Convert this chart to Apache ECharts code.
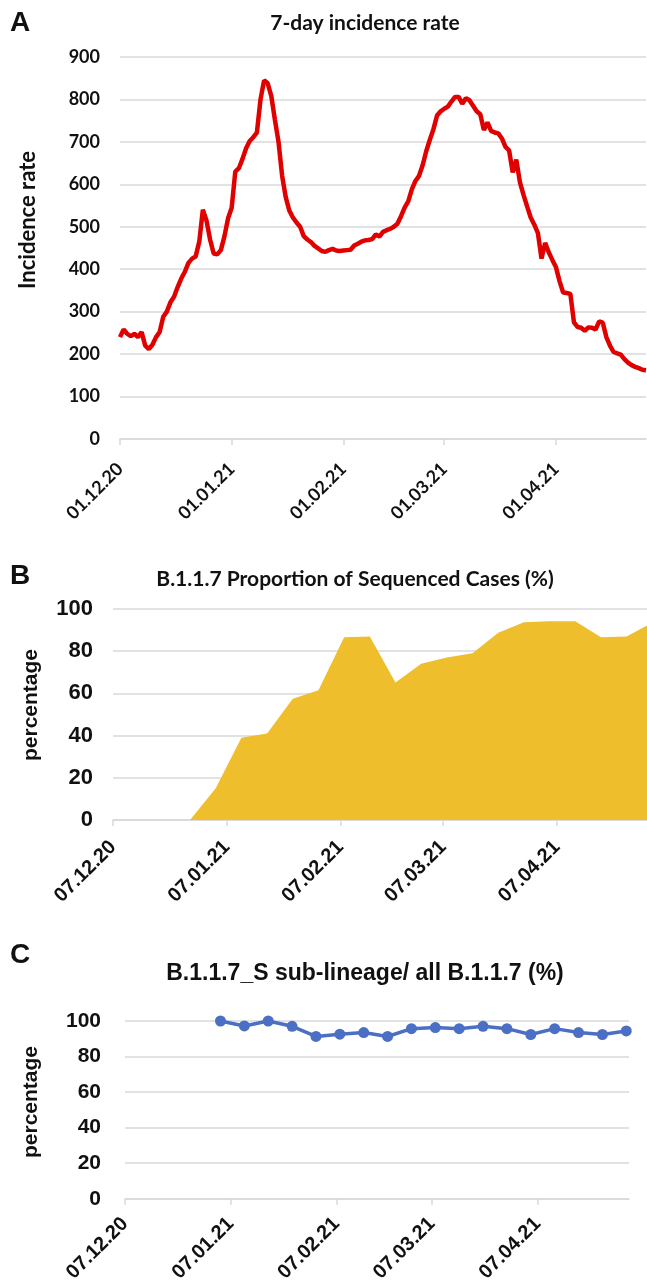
<!DOCTYPE html>
<html>
<head>
<meta charset="utf-8">
<title>7-day incidence / B.1.1.7</title>
<script src="https://cdn.jsdelivr.net/npm/echarts@6/dist/echarts.min.js"></script>
<style>
    html, body { margin: 0; padding: 0; background: #fff; }
    #main { width: 647px; height: 1285px; }
</style>
</head>
<body>
<div id="main"></div>
<script>
// A: daily 7-day incidence rate, first value is 01.12.2020
var incidenceStart = '2020-12-01';
var incidence = [
    240, 258, 248, 242, 248, 240, 252, 220, 212, 222,
    240, 252, 288, 300, 322, 335, 358, 378, 394, 415,
    425, 430, 465, 540, 515, 470, 437, 435, 445, 478,
    520, 545, 630, 638, 660, 685, 702, 711, 722, 800,
    845, 838, 808, 752, 700, 620, 570, 538, 522, 510,
    500, 478, 470, 464, 455, 449, 443, 441, 445, 448,
    444, 443, 444, 445, 446, 456, 460, 465, 468, 469,
    471, 482, 477, 488, 492, 495, 500, 507, 525, 545,
    560, 588, 608, 620, 645, 678, 705, 730, 762, 772,
    778, 783, 795, 806, 806, 790, 803, 798, 785, 772,
    765, 728, 746, 726, 722, 720, 708, 688, 680, 628,
    658, 605, 575, 548, 522, 505, 485, 425, 462, 440,
    422, 405, 372, 345, 344, 342, 275, 264, 262, 255,
    263, 262, 258, 277, 274, 240, 220, 205, 202, 199,
    188, 180, 174, 170, 167, 163, 162
];
var ticksA = ['2020-12-01', '2021-01-01', '2021-02-01', '2021-03-01', '2021-04-01'];

// B: weekly proportion of B.1.1.7 among sequenced cases (%)
var weeksB = ['2020-12-07', '2020-12-14', '2020-12-21', '2020-12-28', '2021-01-04', '2021-01-11',
    '2021-01-18', '2021-01-25', '2021-02-01', '2021-02-08', '2021-02-15', '2021-02-22',
    '2021-03-01', '2021-03-08', '2021-03-15', '2021-03-22', '2021-03-29', '2021-04-05',
    '2021-04-12', '2021-04-19', '2021-04-26', '2021-05-03'];
var proportionB = [0, 0, 0, 0, 15, 39, 41, 57.5, 61.5, 86.6, 87, 65.2,
    74, 77, 79, 88.8, 93.7, 94.2, 94.2, 86.6, 87, 93.5];

// C: weekly share of B.1.1.7_S sub-lineage among all B.1.1.7 (%)
var weeksC = ['2021-01-04', '2021-01-11', '2021-01-18', '2021-01-25', '2021-02-01', '2021-02-08',
    '2021-02-15', '2021-02-22', '2021-03-01', '2021-03-08', '2021-03-15', '2021-03-22',
    '2021-03-29', '2021-04-05', '2021-04-12', '2021-04-19', '2021-04-26', '2021-05-03'];
var subLineageC = [100, 97.2, 100, 97, 91.3, 92.6, 93.5, 91.3, 95.7, 96.3, 95.7, 97,
    95.7, 92.4, 95.7, 93.5, 92.4, 94.4];
var ticksBC = ['2020-12-07', '2021-01-07', '2021-02-07', '2021-03-07', '2021-04-07'];

// x positions are day numbers counted from 01.12.2020
function dayNum(s) {
    var p = s.split('-');
    var t = Date.UTC(+p[0], +p[1] - 1, +p[2]);
    return Math.round((t - Date.UTC(2020, 11, 1)) / 86400000);
}
function fmt(v) {
    var d = new Date(Date.UTC(2020, 11, 1) + Math.round(v) * 86400000);
    function two(n) { return (n < 10 ? '0' : '') + n; }
    return two(d.getUTCDate()) + '.' + two(d.getUTCMonth() + 1) + '.' + two(d.getUTCFullYear() % 100);
}
function pairs(dates, vals) {
    return vals.map(function (v, i) { return [dayNum(dates[i]), v]; });
}

var dataA = incidence.map(function (v, i) { return [dayNum(incidenceStart) + i, v]; });

var grey = '#d9d9d9';
var fontA = 'Lato, "Open Sans", sans-serif';
var fontC = '"Liberation Sans", Arial, sans-serif';

function xAxis(idx, min, max, ticks, font, size, margin) {
    return {
        type: 'value', gridIndex: idx, min: min, max: max,
        splitLine: { show: false },
        axisLine: { lineStyle: { color: grey, width: 1.5 } },
        axisTick: { show: true, length: 6, lineStyle: { color: grey, width: 1.5 },
            customValues: ticks.map(dayNum) },
        axisLabel: {
            customValues: ticks.map(dayNum), formatter: fmt, rotate: 45, margin: margin,
            color: '#111', fontWeight: 'bold', fontSize: size, fontFamily: font
        }
    };
}
function yAxis(idx, max, interval, font, size, margin) {
    return {
        type: 'value', gridIndex: idx, min: 0, max: max, interval: interval,
        axisLine: { show: false }, axisTick: { show: false },
        splitLine: { lineStyle: { color: grey, width: 1.5 } },
        axisLabel: { color: '#111', fontWeight: 'bold', fontSize: size, fontFamily: font, margin: margin }
    };
}
function txt(x, y, s, font, size, rot) {
    return {
        type: 'text', x: x, y: y, rotation: rot || 0,
        style: { text: s, font: 'bold ' + size + 'px ' + font, fill: '#111',
            textAlign: 'center', textVerticalAlign: 'middle' }
    };
}

var chart = echarts.init(document.getElementById('main'));
chart.setOption({
    animation: false,
    grid: [
        { left: 120, right: 1, top: 57, height: 382 },
        { left: 113, right: 0, top: 609, height: 211 },
        { left: 125, right: 18, top: 1021, height: 179 }
    ],
    xAxis: [
        xAxis(0, dayNum('2020-12-01'), dayNum('2021-04-26'), ticksA, fontA, 18, 27),
        xAxis(1, dayNum('2020-12-07'), dayNum('2021-05-01') + 0.55, ticksBC, fontC, 20, 24),
        xAxis(2, dayNum('2020-12-07'), dayNum('2021-05-03') + 0.8, ticksBC, fontC, 20, 22)
    ],
    yAxis: [
        yAxis(0, 900, 100, fontA, 18, 20),
        yAxis(1, 100, 20, fontC, 22, 20),
        yAxis(2, 100, 20, fontC, 21, 24)
    ],
    series: [
        {
            type: 'line', xAxisIndex: 0, yAxisIndex: 0, data: dataA, showSymbol: false,
            lineStyle: { color: '#e00000', width: 4.5 }
        },
        {
            type: 'line', xAxisIndex: 1, yAxisIndex: 1, data: pairs(weeksB, proportionB),
            showSymbol: false, lineStyle: { width: 0 },
            areaStyle: { color: '#eebe2c', opacity: 1 }
        },
        {
            type: 'line', xAxisIndex: 2, yAxisIndex: 2, data: pairs(weeksC, subLineageC),
            symbol: 'circle', symbolSize: 11,
            itemStyle: { color: '#4a6fc4' },
            lineStyle: { color: '#4a6fc4', width: 3.5 }
        }
    ],
    graphic: [
        txt(20, 23, 'A', fontC, 28),
        txt(20, 576, 'B', fontC, 28),
        txt(20, 955, 'C', fontC, 28),
        txt(365, 23, '7-day incidence rate', fontA, 21),
        txt(355, 579, 'B.1.1.7 Proportion of Sequenced Cases (%)', fontA, 21),
        txt(365, 974, 'B.1.1.7_S sub-lineage/ all B.1.1.7 (%)', fontC, 23),
        txt(28, 220, 'Incidence rate', fontA, 22, Math.PI / 2),
        txt(31, 705, 'percentage', fontC, 21, Math.PI / 2),
        txt(31, 1102, 'percentage', fontC, 21, Math.PI / 2)
    ]
});
</script>
</body>
</html>
